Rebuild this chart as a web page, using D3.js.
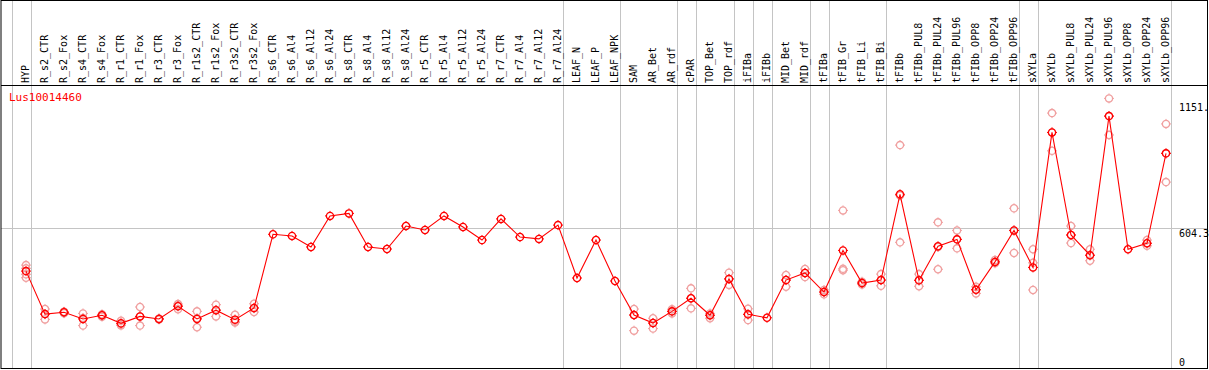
<!DOCTYPE html>
<html><head><meta charset="utf-8">
<script src="https://cdn.jsdelivr.net/npm/d3@7"></script>
<style>html,body{margin:0;padding:0;background:#fff;}svg{display:block;}</style>
</head><body>
<svg id="c" width="1209" height="370"></svg>
<script>
const title = "Lus10014460";
const categories = ["HYP","R_s2_CTR","R_s2_Fox","R_s4_CTR","R_s4_Fox","R_r1_CTR","R_r1_Fox","R_r3_CTR","R_r3_Fox","R_r1s2_CTR","R_r1s2_Fox","R_r3s2_CTR","R_r3s2_Fox","R_s6_CTR","R_s6_Al4","R_s6_Al12","R_s6_Al24","R_s8_CTR","R_s8_Al4","R_s8_Al12","R_s8_Al24","R_r5_CTR","R_r5_Al4","R_r5_Al12","R_r5_Al24","R_r7_CTR","R_r7_Al4","R_r7_Al12","R_r7_Al24","LEAF_N","LEAF_P","LEAF_NPK","SAM","AR_Bet","AR_rdf","cPAR","TOP_Bet","TOP_rdf","iFIBa","iFIBb","MID_Bet","MID_rdf","tFIBa","tFIB_Gr","tFIB_Li","tFIB_Bi","tFIBb","tFIBb_PUL8","tFIBb_PUL24","tFIBb_PUL96","tFIBb_OPP8","tFIBb_OPP24","tFIBb_OPP96","sXYLa","sXYLb","sXYLb_PUL8","sXYLb_PUL24","sXYLb_PUL96","sXYLb_OPP8","sXYLb_OPP24","sXYLb_OPP96"];
const means = [417,230,238,209,225,190,220,209,264,209,247,206,257,577,570,522,657,668,522,513,613,596,657,609,552,644,565,557,617,387,552,374,226,191,242,299,225,383,229,214,378,409,326,507,365,378,751,377,525,555,336,457,594,433,1020,574,486,1091,512,538,929];
const rep1 = [443,252,240,233,229,201,261,211,274,242,271,227,275,null,null,null,null,null,null,null,null,null,null,null,null,null,null,null,null,null,null,null,252,212,251,342,233,410,253,null,400,426,335,681,371,404,965,404,629,594,349,465,690,512,1104,613,512,1168,null,552,1057];
const rep2 = [429,207,234,180,219,181,180,207,251,173,220,193,239,null,null,null,null,null,null,null,null,null,null,null,null,null,null,null,null,null,null,null,158,167,233,255,212,357,204,null,349,391,316,427,359,353,542,351,425,516,320,451,496,453,940,539,462,1009,null,527,804];
const rep3 = [403,230,239,213,226,187,220,209,267,212,248,197,255,null,null,null,null,null,null,null,null,null,null,null,null,null,null,null,null,null,null,null,226,191,242,299,225,383,229,null,378,409,326,421,365,378,746,377,522,555,336,457,594,335,1020,574,486,1091,null,538,929];
const rep4 = [388,null,null,null,null,null,null,null,null,null,null,null,null,null,null,null,null,null,null,null,null,null,null,null,null,null,null,null,null,null,null,null,null,null,null,null,null,null,null,null,null,null,null,null,null,null,null,null,null,null,null,null,null,null,null,null,null,null,null,null,null];
// indices after which a group separator is drawn (-1 = before first)
const separatorsAfter = [-1,0,28,31,34,35,37,38,39,41,42,45,52,53,60];
const tickValues = [1151, 604.3, 0];
const tickLabels = ["1151.", "604.3", "0"];

const svg = d3.select("#c");
const fLeft = 1, fRight = 1207.5, fTop = 0.5, fBottom = 368.5, headerY = 85.5;
const font = "'DejaVu Sans Mono', 'Liberation Mono', monospace";

const xi = d3.scaleLinear().domain([0, categories.length - 1]).range([26, 1166]);
const x = d => xi(categories.indexOf(d));
const y = d3.scaleLinear().domain([0, 1151]).range([367, 102.3]);
const step = xi(1) - xi(0);

// separators
svg.append("g").selectAll("line").data(separatorsAfter).join("line")
  .attr("x1", d => Math.round(xi(d) + step / 4) + 0.5)
  .attr("x2", d => Math.round(xi(d) + step / 4) + 0.5)
  .attr("y1", fTop).attr("y2", fBottom)
  .attr("stroke", "#c4c4c4").attr("stroke-width", 1);

// horizontal grid at middle tick
svg.append("line")
  .attr("x1", fLeft).attr("x2", fRight)
  .attr("y1", Math.round(y(604.3)) + 0.5).attr("y2", Math.round(y(604.3)) + 0.5)
  .attr("stroke", "#c4c4c4").attr("stroke-width", 1);

// frame
svg.append("rect").attr("x", fLeft).attr("y", fTop)
  .attr("width", fRight - fLeft).attr("height", fBottom - fTop)
  .attr("fill", "none").attr("stroke", "#000").attr("stroke-width", 1);
svg.append("line").attr("x1", fLeft).attr("x2", fRight)
  .attr("y1", headerY).attr("y2", headerY).attr("stroke", "#000");

// category labels
svg.append("g").selectAll("text").data(categories).join("text")
  .attr("transform", d => `translate(${x(d) + 3.2},83) rotate(-90)`)
  .attr("font-family", font).attr("font-size", 10).attr("fill", "#000")
  .text(d => d);

// title
svg.append("text").attr("x", 9).attr("y", 101)
  .attr("font-family", font).attr("font-size", 11).attr("fill", "#ff0000")
  .text(title);

// right tick labels
svg.append("g").selectAll("text").data(tickValues).join("text")
  .attr("x", 1179)
  .attr("y", (d, i) => d === 0 ? 365.5 : y(d) + 8.7)
  .attr("font-family", font).attr("font-size", 10).attr("fill", "#000")
  .text((d, i) => tickLabels[i]);

function marker(sel, color) {
  sel.append("circle").attr("r", 3.6).attr("fill", "none")
    .attr("stroke", color).attr("stroke-width", 1.3);
  [[0,-3.6,0,-5],[0,3.6,0,5],[-3.6,0,-5,0],[3.6,0,5,0]].forEach(p => {
    sel.append("line").attr("x1", p[0]).attr("y1", p[1]).attr("x2", p[2]).attr("y2", p[3])
      .attr("stroke", color).attr("stroke-width", 1);
  });
}

// replicate points
const reps = [];
[rep1, rep2, rep3, rep4].forEach(arr => arr.forEach((v, i) => { if (v !== null) reps.push({c: categories[i], v}); }));
svg.append("g").selectAll("g").data(reps).join("g")
  .attr("transform", d => `translate(${x(d.c)},${y(d.v)})`)
  .each(function() { marker(d3.select(this), "#f0a0a0"); });

// mean line
const pts = categories.map((c, i) => ({c, v: means[i]}));
svg.append("path").datum(pts)
  .attr("d", d3.line().x(d => x(d.c)).y(d => y(d.v)))
  .attr("fill", "none").attr("stroke", "#ff0000").attr("stroke-width", 1.1);

svg.append("g").selectAll("g").data(pts).join("g")
  .attr("transform", d => `translate(${x(d.c)},${y(d.v)})`)
  .each(function() { marker(d3.select(this), "#ff0000"); });
</script>
</body></html>
